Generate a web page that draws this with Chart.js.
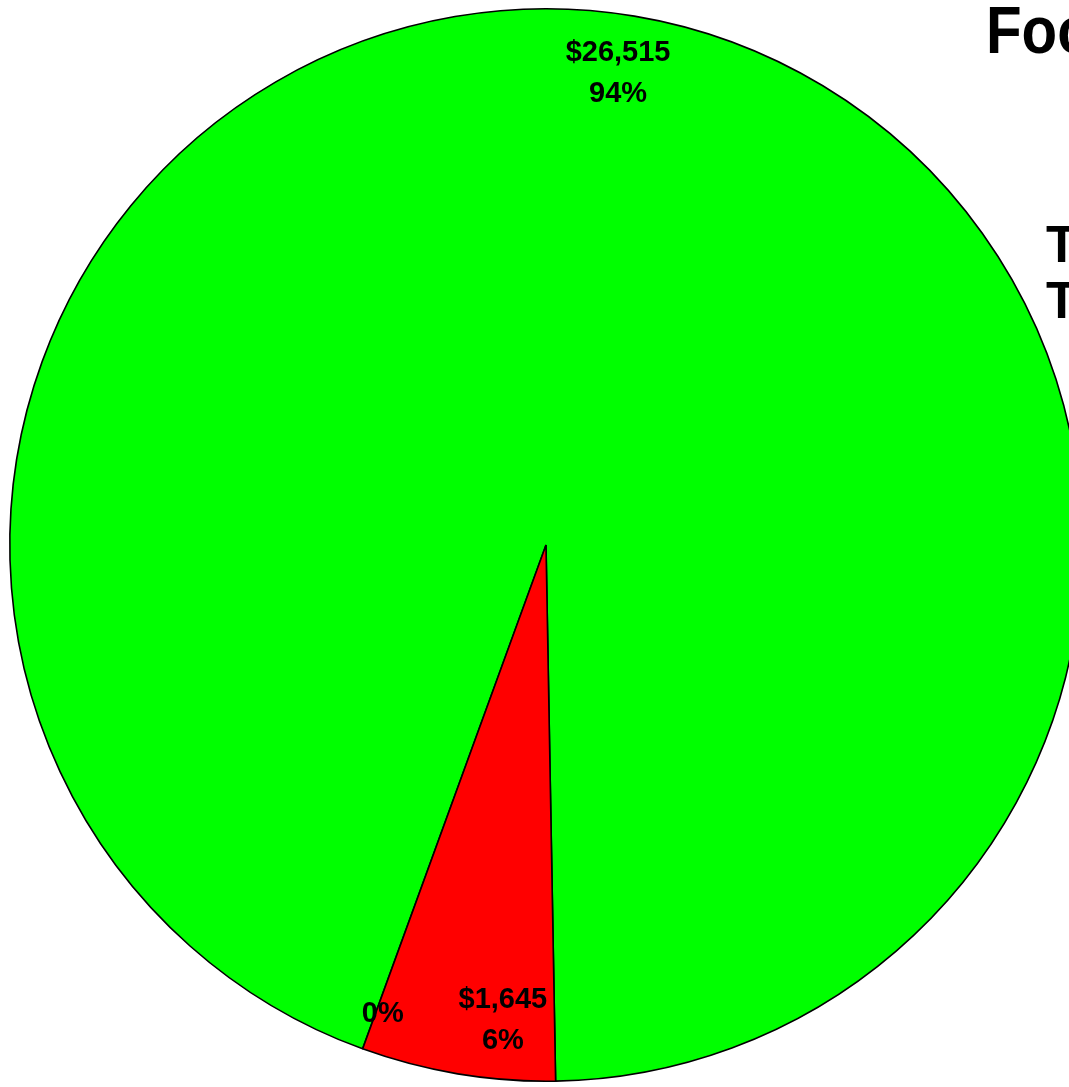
<!DOCTYPE html>
<html>
<head>
<meta charset="utf-8">
<script src="https://cdn.jsdelivr.net/npm/chart.js@4/dist/chart.umd.min.js"></script>
<style>
  html, body { margin: 0; padding: 0; background: #fff; overflow: hidden; }
  #wrap { position: relative; width: 1600px; height: 1087px; }
</style>
</head>
<body>
<div id="wrap"><canvas id="pie" width="1600" height="1087"></canvas></div>
<script>
// datos del grafico
const categorias = ["Total Spent", "Total Remaining", "Total Over"];
const valores = [26515, 1645, 0];
const colores = ["#00ff00", "#ff0000", "#0000ff"];
const titulo = "Food Budget";

const total = valores.reduce((a, b) => a + b, 0);

// etiquetas dentro de cada porcion: monto y porcentaje
const etiquetasPie = {
    id: "etiquetasPie",
    afterDatasetsDraw(chart, args, opts) {
        const ctx = chart.ctx;
        const meta = chart.getDatasetMeta(0);
        ctx.save();
        ctx.fillStyle = "#000";
        ctx.font = "bold 29px 'Liberation Sans', Arial, sans-serif";
        ctx.textAlign = "center";
        ctx.textBaseline = "middle";
        meta.data.forEach((arc, i) => {
            const p = arc.getProps(["x", "y", "startAngle", "endAngle", "outerRadius"], true);
            const mid = (p.startAngle + p.endAngle) / 2 + (opts.ajuste[i] || 0) * Math.PI / 180;
            const r = p.outerRadius * 0.89;
            const cx = p.x + r * Math.cos(mid);
            const cy = p.y + r * Math.sin(mid);
            const v = valores[i];
            const linea1 = v > 0 ? "$" + v.toLocaleString("en-US") : "";
            const linea2 = Math.round(v / total * 100) + "%";
            ctx.fillText(linea1, cx, cy - 20.5);
            ctx.fillText(linea2, cx, cy + 20.5);
        });
        ctx.restore();
    }
};

// titulo y leyenda a la derecha
const textosDerecha = {
    id: "textosDerecha",
    afterDraw(chart) {
        const ctx = chart.ctx;
        ctx.save();
        ctx.fillStyle = "#000";
        ctx.textAlign = "left";
        ctx.textBaseline = "alphabetic";
        // el titulo original es algo mas estrecho
        ctx.save();
        ctx.translate(986, 53);
        ctx.scale(0.87, 1);
        ctx.font = "bold 67px 'Liberation Sans', Arial, sans-serif";
        ctx.fillText(titulo, 0, 0);
        ctx.restore();
        ctx.font = "bold 51px 'Liberation Sans', Arial, sans-serif";
        ctx.fillText(categorias[0] + ": $" + valores[0].toLocaleString("en-US"), 1046, 262);
        ctx.fillText(categorias[1] + ": $" + valores[1].toLocaleString("en-US"), 1046, 318);
        ctx.restore();
    }
};

new Chart(document.getElementById("pie"), {
    type: "pie",
    data: {
        labels: categorias,
        datasets: [{
            data: valores,
            backgroundColor: colores,
            borderColor: "#000",
            borderWidth: 1.6,
            hoverOffset: 0,
        }],
    },
    options: {
        responsive: false,
        animation: false,
        rotation: -160,
        layout: { padding: { left: 9, top: 8, right: 1600 - 1083, bottom: 5 } },
        plugins: {
            legend: { display: false },
            tooltip: { enabled: false },
            etiquetasPie: { ajuste: [-0.8, -4.3, 0] },
        },
    },
    plugins: [etiquetasPie, textosDerecha],
});
</script>
</body>
</html>
